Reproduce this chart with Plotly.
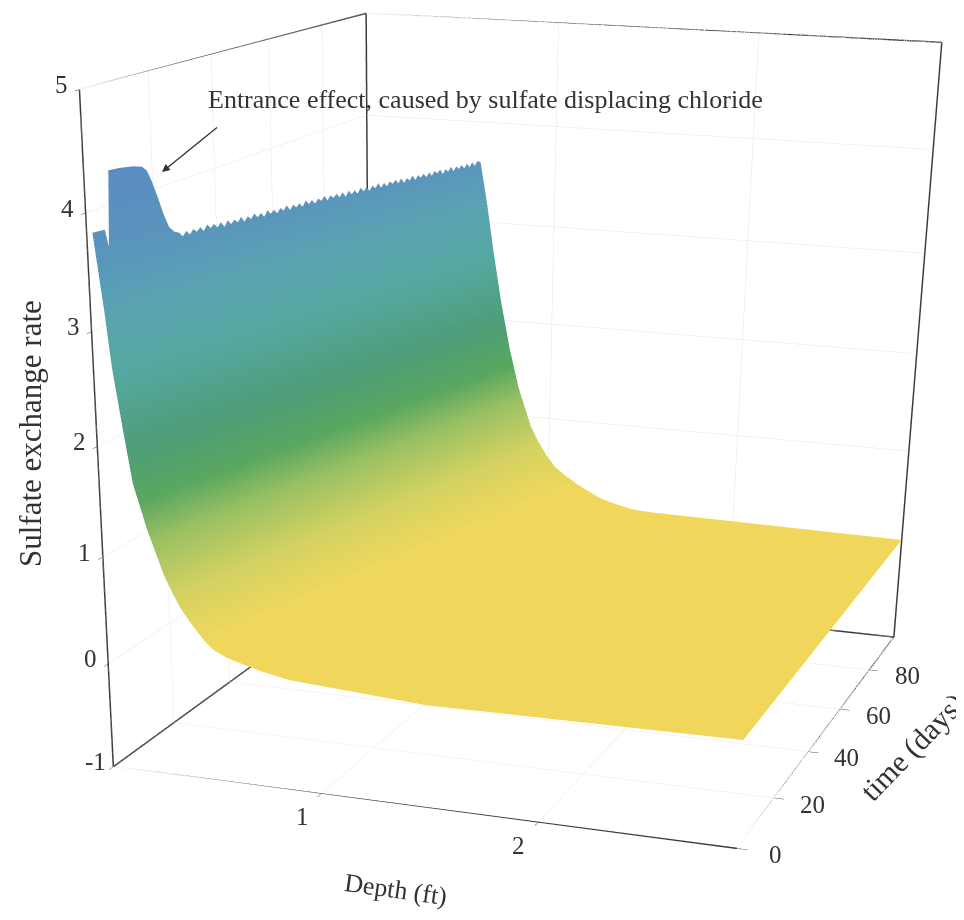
import numpy as np
import plotly.graph_objects as go

FIG_W, FIG_H = 964, 2400
PAGE_INSET = 8

depth_range = [0, 2.88]
time_range = [0, 98]
rate_range = [-1, 5]
depth_ticks = [1, 2]
time_ticks = [0, 20, 40, 60, 80]
rate_ticks = [-1, 0, 1, 2, 3, 4, 5]

# main sheet: one row per time, one column per point of the decay profile
sheet_times = [0, 24.5, 49, 73.5, 98]
sheet_depth = [
    [0.062, 0.086, 0.121, 0.158, 0.215, 0.285, 0.320, 0.360, 0.403, 0.435, 0.469, 0.507, 0.570, 0.639, 0.734, 0.864, 1.483, 2.88],
    [0.208, 0.235, 0.272, 0.313, 0.369, 0.439, 0.475, 0.517, 0.562, 0.600, 0.641, 0.686, 0.749, 0.818, 0.918, 1.044, 1.616, 2.88],
    [0.353, 0.385, 0.424, 0.468, 0.522, 0.592, 0.630, 0.674, 0.720, 0.765, 0.814, 0.866, 0.929, 0.997, 1.102, 1.224, 1.750, 2.88],
    [0.499, 0.534, 0.575, 0.623, 0.676, 0.746, 0.784, 0.831, 0.878, 0.929, 0.986, 1.045, 1.108, 1.175, 1.285, 1.404, 1.883, 2.88],
    [0.644, 0.683, 0.726, 0.778, 0.829, 0.899, 0.939, 0.988, 1.037, 1.094, 1.158, 1.224, 1.287, 1.354, 1.469, 1.584, 2.016, 2.88],
]
sheet_rate = [
    [3.2, 2.7, 2.2, 1.7, 1.3, 0.9, 0.75, 0.6, 0.48, 0.4, 0.32, 0.25, 0.19, 0.15, 0.10, 0.05, -0.03, 0.00],
    [3.2, 2.7, 2.2, 1.7, 1.3, 0.9, 0.75, 0.6, 0.48, 0.4, 0.32, 0.25, 0.19, 0.15, 0.10, 0.06, 0.00, 0.015],
    [3.2, 2.7, 2.2, 1.7, 1.3, 0.9, 0.75, 0.6, 0.48, 0.4, 0.32, 0.25, 0.19, 0.15, 0.10, 0.07, 0.03, 0.03],
    [3.2, 2.7, 2.2, 1.7, 1.3, 0.9, 0.75, 0.6, 0.48, 0.4, 0.32, 0.25, 0.19, 0.15, 0.10, 0.08, 0.05, 0.045],
    [3.2, 2.7, 2.2, 1.7, 1.3, 0.9, 0.75, 0.6, 0.48, 0.4, 0.32, 0.25, 0.19, 0.15, 0.10, 0.09, 0.08, 0.06],
]

# crest of the sheet at the inlet: entrance bump, then the saw-tooth edge
crest_time = [
    0, 1.5, 2.6, 3.3, 3.9, 6, 9, 11, 12, 13, 14.2, 15.3, 16.4, 17.5, 18.6,
    19.4, 20.2, 21.0, 21.8, 22.6, 23.4, 24.2, 25.0, 25.8, 26.6,
    27.4, 28.2, 29.0, 29.8, 30.6, 31.4, 32.2, 33.0, 33.8, 34.6,
    35.4, 36.2, 37.0, 37.8, 38.6, 39.4, 40.2, 41.0, 41.8, 42.6,
    43.4, 44.2, 45.0, 45.8, 46.6, 47.4, 48.2, 49.0, 49.8, 50.6,
    51.4, 52.2, 53.0, 53.8, 54.6, 55.4, 56.2, 57.0, 57.8, 58.6,
    59.4, 60.2, 61.0, 61.8, 62.6, 63.4, 64.2, 65.0, 65.8, 66.6,
    67.4, 68.2, 69.0, 69.8, 70.6, 71.4, 72.2, 73.0, 73.8, 74.6,
    75.4, 76.2, 77.0, 77.8, 78.6, 79.4, 80.2, 81.0, 81.8, 82.6,
    83.4, 84.2, 85.0, 85.8, 86.6, 87.4, 88.2, 89.0, 89.8, 90.6,
    91.4, 92.2, 93.0, 93.8, 94.6, 95.4, 96.2, 97.0, 98.0,
]
crest_rate = [
    3.84, 3.84, 3.84, 3.69, 4.32, 4.32, 4.31, 4.29, 4.25, 4.15, 4.00, 3.85, 3.73, 3.68, 3.66,
    3.62, 3.66, 3.62, 3.66, 3.63, 3.66, 3.62, 3.67, 3.63, 3.66,
    3.62, 3.66, 3.61, 3.66, 3.62, 3.65, 3.62, 3.66, 3.61, 3.65,
    3.62, 3.66, 3.62, 3.65, 3.61, 3.66, 3.62, 3.65, 3.61, 3.65,
    3.62, 3.66, 3.61, 3.65, 3.62, 3.65, 3.61, 3.66, 3.62, 3.65,
    3.61, 3.65, 3.62, 3.66, 3.61, 3.65, 3.62, 3.65, 3.61, 3.65,
    3.60, 3.65, 3.61, 3.64, 3.60, 3.65, 3.61, 3.64, 3.60, 3.64,
    3.61, 3.65, 3.60, 3.64, 3.60, 3.64, 3.61, 3.64, 3.60, 3.64,
    3.59, 3.63, 3.60, 3.64, 3.59, 3.63, 3.60, 3.63, 3.59, 3.63,
    3.59, 3.63, 3.60, 3.63, 3.58, 3.62, 3.59, 3.63, 3.58, 3.62,
    3.59, 3.62, 3.58, 3.62, 3.58, 3.62, 3.58, 3.62, 3.60,
]
crest_base_rate = 3.2
crest_width = 0.036

rate_colors = [
    [0.00, "#f0d65a"], [0.07, "#efd75c"], [0.16, "#d3d262"], [0.27, "#99c063"],
    [0.35, "#5aa760"], [0.45, "#4e9d78"], [0.60, "#55a8a0"], [0.73, "#5aa2b2"],
    [0.82, "#5a96bc"], [1.00, "#5a8bc2"],
]
flat_light = dict(ambient=1, diffuse=0, specular=0, roughness=1, fresnel=0)

sheet_y = [[t] * len(sheet_depth[0]) for t in sheet_times]
fig = go.Figure()
fig.add_trace(go.Surface(
    x=sheet_depth, y=sheet_y, z=sheet_rate, cmin=0, cmax=4.4,
    colorscale=rate_colors, showscale=False, lighting=flat_light, hoverinfo="skip",
))

crest_inner = np.interp(crest_time, sheet_times, [row[0] for row in sheet_depth])
crest_x = np.column_stack([crest_inner - crest_width, crest_inner])
crest_y = np.column_stack([crest_time, crest_time])
crest_z = np.column_stack([crest_rate, np.full(len(crest_rate), crest_base_rate)])
fig.add_trace(go.Surface(
    x=crest_x, y=crest_y, z=crest_z, cmin=0, cmax=4.4,
    colorscale=rate_colors, showscale=False, lighting=flat_light, hoverinfo="skip",
))

# box edges drawn in the original
x0, x1 = depth_range
y0, y1 = time_range
z0, z1 = rate_range
edges = [
    [(x0, y0, z0), (x1, y0, z0)], [(x1, y0, z0), (x1, y1, z0)], [(x0, y0, z0), (x0, y1, z0)],
    [(x0, y1, z0), (x1, y1, z0)], [(x0, y0, z0), (x0, y0, z1)], [(x1, y1, z0), (x1, y1, z1)],
    [(x0, y1, z0), (x0, y1, z1)], [(x0, y0, z1), (x0, y1, z1)], [(x0, y1, z1), (x1, y1, z1)],
]
ex, ey, ez = [], [], []
for a, b in edges:
    ex += [a[0], b[0], None]
    ey += [a[1], b[1], None]
    ez += [a[2], b[2], None]
fig.add_trace(go.Scatter3d(x=ex, y=ey, z=ez, mode="lines",
                           line=dict(color="#3c3c3c", width=3), hoverinfo="skip", showlegend=False))

SERIF = "Liberation Serif"
tick_font = dict(family=SERIF, size=25, color="#333333")


def axis(rng, ticks):
    return dict(
        range=rng, tickmode="array", tickvals=ticks, showticklabels=False,
        title=dict(text=""), ticks="outside", ticklen=8, tickcolor="#444444",
        showgrid=True, gridcolor="#e6e6e6", gridwidth=1, zeroline=False,
        showbackground=False, showline=False, showspikes=False, autorange=False,
    )


def tick_label(x, y, z, value, xshift, yshift):
    return dict(x=x, y=y, z=z, text=str(value), showarrow=False, xshift=xshift, yshift=yshift,
                font=tick_font)


tick_labels = (
    [tick_label(x0, y0, v, v, -18, 5) for v in rate_ticks]
    + [tick_label(v, y0, z0, v, -19, -23) for v in depth_ticks]
    + [tick_label(x1, v, z0, v, 38, -6) for v in time_ticks]
)


def px(x):
    return (x - PAGE_INSET) / FIG_W


def py(y):
    return 1 - (y - PAGE_INSET) / FIG_H


def label(text, x, y, angle, size):
    return dict(text=text, x=px(x), y=py(y), xref="paper", yref="paper", textangle=angle,
                showarrow=False, xanchor="center", yanchor="middle",
                font=dict(family=SERIF, size=size, color="#333333"))


fig.update_layout(
    width=FIG_W, height=FIG_H, margin=dict(l=0, r=0, t=0, b=0), autosize=False,
    paper_bgcolor="white", showlegend=False,
    scene=dict(
        domain=dict(x=[0, 1], y=[0, 1]),
        xaxis=axis(depth_range, depth_ticks),
        yaxis=axis(time_range, time_ticks),
        zaxis=axis(rate_range, rate_ticks),
        aspectmode="manual",
        aspectratio=dict(x=1.0099, y=1.1322, z=1),
        camera=dict(
            eye=dict(x=1.4320, y=-4.4983, z=1.0312),
            center=dict(x=0.1400, y=-0.5979, z=-1.1514),
            up=dict(x=-0.1617, y=0.4406, z=0.8830),
            projection=dict(type="perspective"),
        ),
        annotations=tick_labels,
    ),
    annotations=[
        label("Entrance effect, caused by sulfate displacing chloride", 485, 99, 0, 26),
        label("Sulfate exchange rate", 30, 434, -90, 31),
        label("Depth (ft)", 395, 890, 8, 26),
        label("time (days)", 913, 747, -46, 30),
        dict(text=" ", x=px(162), y=py(172), xref="paper", yref="paper", showarrow=True,
             ax=58, ay=-47, axref="pixel", ayref="pixel", arrowhead=2, arrowsize=1.2,
             arrowwidth=1.3, arrowcolor="#333333", standoff=0),
    ],
)
fig.write_html("out.html", config=dict(displayModeBar=False),
               post_script="document.documentElement.style.overflow='hidden';")
